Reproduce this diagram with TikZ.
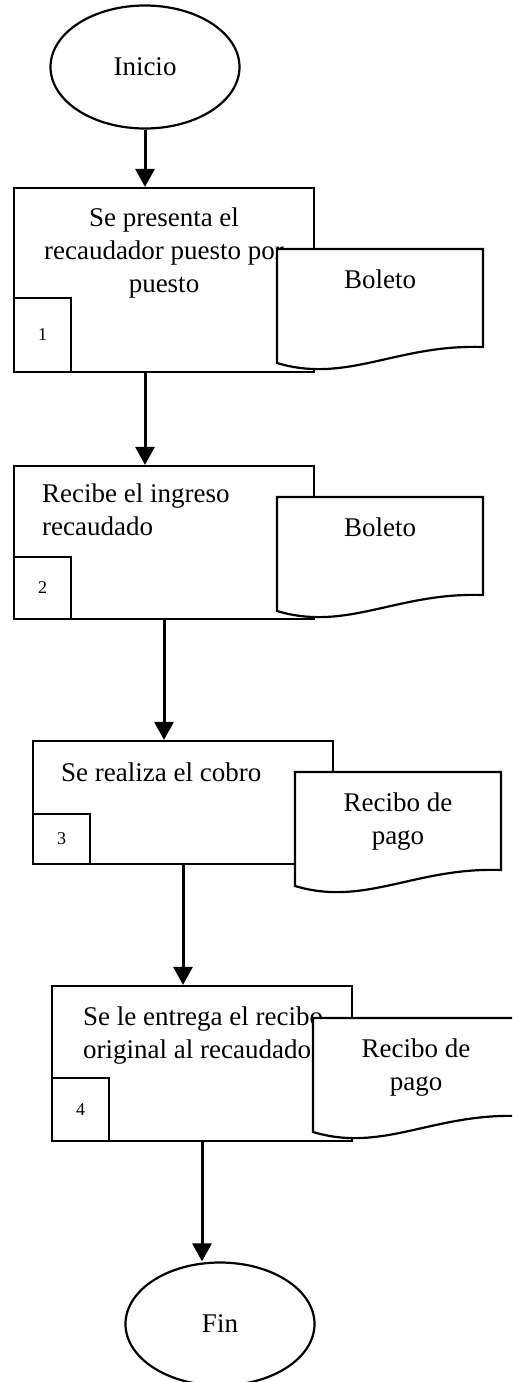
\documentclass[tikz,border=0pt]{standalone}
\usepackage{fontspec}
\setmainfont{Liberation Serif}
\usetikzlibrary{shapes.geometric,arrows.meta}

\newcommand{\documento}[4]{%
  \begin{scope}[shift={(#2,#3)}]
    \draw[hoja] (0,0) -- (206,0) -- (206,98) .. controls (120,95) and (70,135) .. (0,114) -- cycle;
    \node[hojatexto] (#1) at (103,19.5) {#4};
  \end{scope}}

\begin{document}
\begin{tikzpicture}[x=1pt,y=-1pt,line width=2.2pt,
    every node/.style={font=\fontsize{27}{33}\selectfont},
    terminal/.style={draw,ellipse,minimum width=189pt,minimum height=123pt,inner sep=0pt},
    proceso/.style={draw,rectangle,minimum width=300pt,inner sep=0pt},
    numero/.style={draw,rectangle,minimum width=57pt,inner sep=0pt,anchor=south west,font=\fontsize{18}{20}\selectfont},
    hoja/.style={draw,fill=white},
    hojatexto/.style={anchor=north,align=center,inner sep=0pt},
    texto/.style={inner sep=0pt},
    flecha/.style={line width=3pt,-{Triangle[width=19pt,length=18pt]}}]
        \useasboundingbox (0,0) rectangle (512,1382);
        \clip (0,0) rectangle (512,1382);
        \node[terminal] (inicio) at (145,67) {Inicio};
        \node[proceso,minimum height=184pt] (box1) at (164,280) {};
        \node[texto,align=center,anchor=base] (t1) at (164,292) {Se presenta el\\recaudador puesto por\\puesto};
        \node[numero,minimum height=74pt] (n1) at (box1.south west) {1};
        \documento{doc1}{277}{249}{Boleto}
        \node[proceso,minimum height=153pt] (box2) at (164,542.5) {};
        \node[texto,align=left,anchor=base west] (t2) at (41,535) {Recibe el ingreso\\recaudado};
        \node[numero,minimum height=62pt] (n2) at (box2.south west) {2};
        \documento{doc2}{277}{497}{Boleto}
        \node[proceso,minimum height=123pt] (box3) at (183,802.5) {};
        \node[texto,anchor=base west] (t3) at (60,781) {Se realiza el cobro};
        \node[numero,minimum height=50pt] (n3) at (box3.south west) {3};
        \documento{doc3}{295}{772}{Recibo de\\pago}
        \node[proceso,minimum height=155pt] (box4) at (202,1063.5) {};
        \node[texto,align=left,anchor=base west] (t4) at (82,1058) {Se le entrega el recibo\\original al recaudado};
        \node[numero,minimum height=63pt] (n4) at (box4.south west) {4};
        \documento{doc4}{313}{1018}{Recibo de\\pago}
        \node[terminal] (fin) at (220,1324) {Fin};
        \draw[flecha] (inicio.south) -- (inicio.south |- box1.north);
        \draw[flecha] (box1.south -| inicio.south) -- (box2.north -| inicio.south);
        \draw[flecha] (box2.south) -- (box2.south |- box3.north);
        \draw[flecha] (box3.south) -- (box3.south |- box4.north);
        \draw[flecha] (box4.south) -- (box4.south |- fin.north);
\end{tikzpicture}
\end{document}
